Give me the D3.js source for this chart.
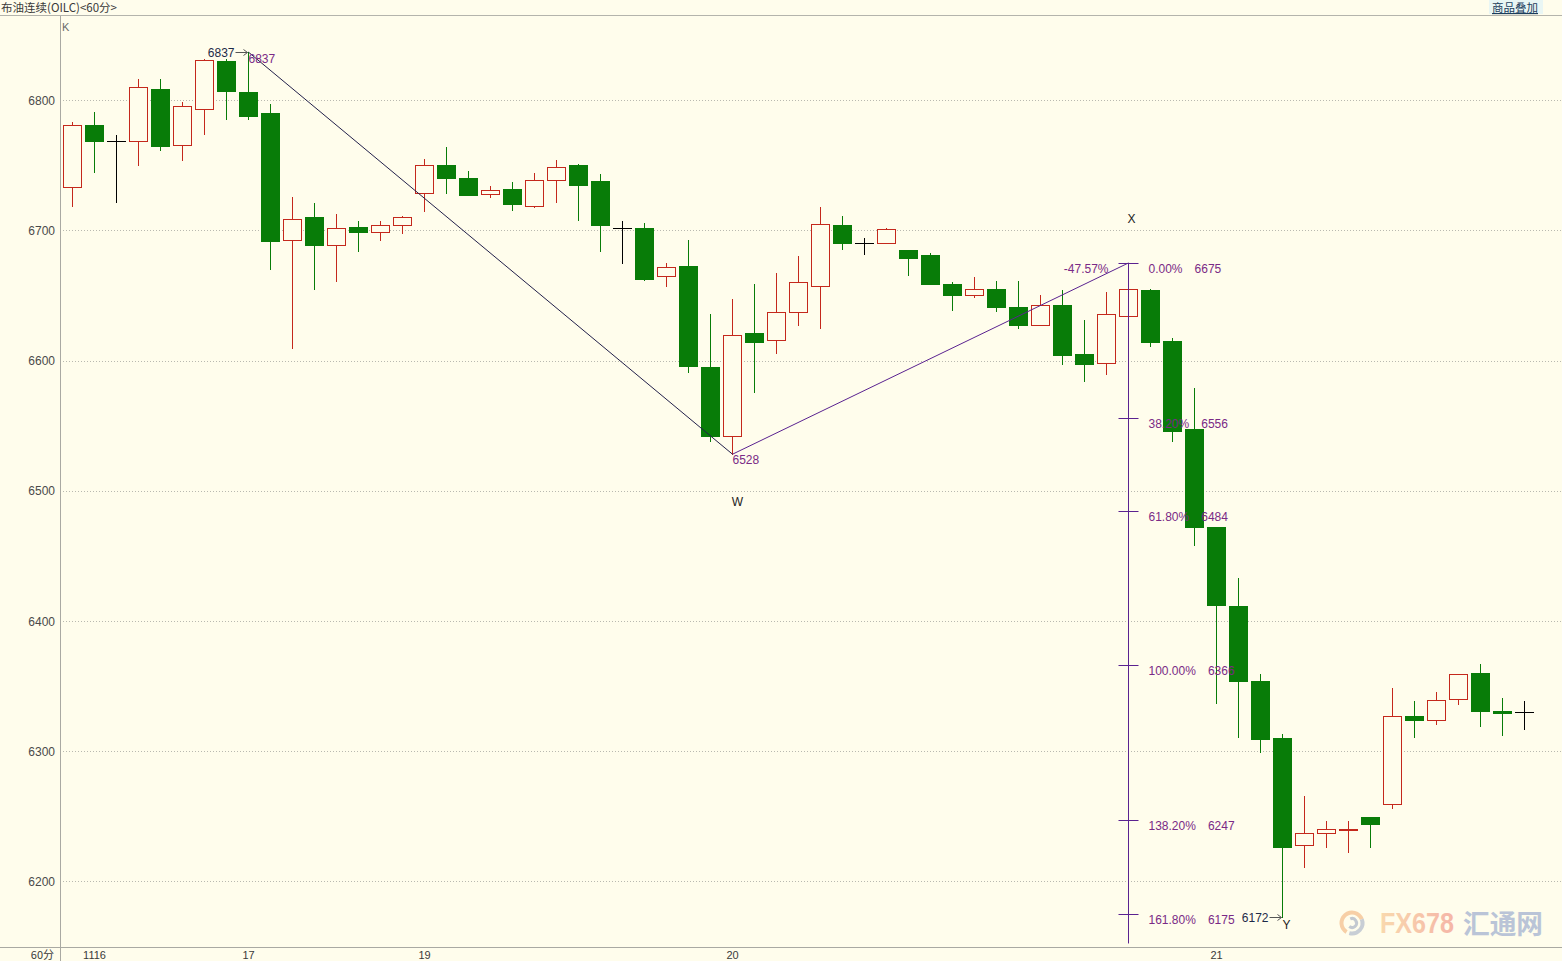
<!DOCTYPE html>
<html>
<head>
<meta charset="utf-8">
<script src="https://cdn.jsdelivr.net/npm/d3@7"></script>
<style>
  html, body { margin: 0; padding: 0; background: #fffdec; }
  svg { display: block; }
</style>
</head>
<body>
<svg id="chart" width="1562" height="961"></svg>
<script>
// 布油连续 (OILC) 60-minute bars
const opens = [
  6733, 6781, 6769, 6769, 6809, 6766, 6793, 6830, 6806, 6790,
  6693, 6710, 6689, 6703, 6699, 6704, 6729, 6750, 6740, 6728,
  6732, 6719, 6739, 6750, 6738, 6702, 6702, 6665, 6673, 6595,
  6542, 6621, 6616, 6637, 6657, 6704, 6690, 6690, 6685, 6681,
  6659, 6650, 6655, 6641, 6627, 6643, 6605, 6598, 6634, 6654,
  6615, 6547, 6472, 6411, 6354, 6310, 6228, 6237, 6239, 6249,
  6259, 6327, 6324, 6340, 6360, 6331, 6330
];
const highs = [
  6783, 6791, 6773, 6816, 6816, 6799, 6832, 6832, 6837, 6797,
  6726, 6721, 6713, 6707, 6707, 6711, 6755, 6764, 6746, 6734,
  6737, 6744, 6754, 6751, 6743, 6707, 6706, 6675, 6693, 6636,
  6647, 6659, 6667, 6680, 6718, 6711, 6694, 6702, 6685, 6683,
  6660, 6664, 6661, 6661, 6650, 6654, 6631, 6653, 6675, 6655,
  6617, 6579, 6472, 6433, 6359, 6313, 6265, 6246, 6246, 6249,
  6348, 6338, 6345, 6359, 6367, 6341, 6338
];
const lows = [
  6719, 6745, 6722, 6750, 6762, 6754, 6774, 6786, 6786, 6670,
  6610, 6655, 6661, 6684, 6693, 6698, 6715, 6729, 6727, 6726,
  6716, 6718, 6722, 6708, 6684, 6675, 6662, 6657, 6591, 6538,
  6528, 6576, 6606, 6627, 6625, 6686, 6682, 6690, 6666, 6659,
  6639, 6649, 6638, 6625, 6627, 6597, 6584, 6590, 6630, 6611,
  6538, 6458, 6337, 6311, 6299, 6172, 6211, 6226, 6222, 6226,
  6256, 6311, 6321, 6336, 6319, 6312, 6317
];
const closes = [
  6781, 6769, 6769, 6810, 6765, 6796, 6831, 6807, 6788, 6692,
  6709, 6689, 6702, 6699, 6704, 6710, 6750, 6740, 6727, 6731,
  6720, 6739, 6749, 6735, 6704, 6702, 6663, 6672, 6596, 6542,
  6620, 6614, 6637, 6660, 6705, 6690, 6690, 6701, 6679, 6659,
  6650, 6655, 6641, 6627, 6643, 6604, 6597, 6636, 6655, 6614,
  6546, 6472, 6412, 6354, 6309, 6226, 6237, 6240, 6240, 6244,
  6327, 6324, 6339, 6359, 6331, 6329, 6330
];

// session labels on the time axis
const dayLabels = ["1116", "17", "19", "20", "21"];
const dayLabelIdx = [1, 8, 16, 30, 52];

// price grid
const priceTicks = [6200, 6300, 6400, 6500, 6600, 6700, 6800];

// W-X-Y swing points
const pivotIdx = [8, 30, 48];
const pivotVal = [6837, 6528, 6675];
const lowIdx = 55;
const lowVal = 6172;
const retraceText = "-47.57%";

// Fibonacci projection from X
const fibPct = ["0.00%", "38.20%", "61.80%", "100.00%", "138.20%", "161.80%"];
const fibVal = [6675, 6556, 6484, 6366, 6247, 6175];
const fibLineEnd = 6152;

const W = 1562, H = 961;
const plotLeft = 60, plotTop = 16, axisY = 947;
const bg = "#fffdec";
const upColor = "#c4281c";
const downColor = "#087c08";
const flatColor = "#000000";
const annColor = "#7a2a86";
const fibColor = "#5a2290";

const svg = d3.select("#chart");
svg.append("rect").attr("width", W).attr("height", H).attr("fill", bg);

const x = d3.scaleLinear().domain([0, opens.length - 1]).range([72.5, 1524.5]);
const y = d3.scaleLinear().domain([6200, 6800]).range([881, 100.3]);
const py = v => Math.round(y(v));

const numFont = "'Liberation Sans', Arial, sans-serif";
const cjkFont = "'Noto Sans CJK SC', 'Noto Sans', sans-serif";

// header strip
svg.append("line").attr("x1", 0).attr("x2", W).attr("y1", 15.5).attr("y2", 15.5)
  .attr("stroke", "#b4b4ac").attr("stroke-width", 1);
svg.append("text").attr("x", 1).attr("y", 12)
  .attr("font-family", cjkFont).attr("font-size", 11.5).attr("fill", "#3a3a3a")
  .text("布油连续(OILC)<60分>");
svg.append("rect").attr("x", 1489).attr("y", 0).attr("width", 54).attr("height", 14).attr("fill", "#e9f6f4");
svg.append("text").attr("x", 1492).attr("y", 12)
  .attr("font-family", cjkFont).attr("font-size", 11.5).attr("fill", "#1b3d5c")
  .attr("text-decoration", "underline")
  .text("商品叠加");

// gridlines
svg.append("g").selectAll("line").data(priceTicks).join("line")
  .attr("x1", plotLeft).attr("x2", W)
  .attr("y1", d => py(d) + 0.5).attr("y2", d => py(d) + 0.5)
  .attr("stroke", "#b9b9b0").attr("stroke-width", 1).attr("stroke-dasharray", "1,2");

// frame
svg.append("line").attr("x1", plotLeft + 0.5).attr("x2", plotLeft + 0.5).attr("y1", plotTop).attr("y2", H)
  .attr("stroke", "#a9a9a2");
svg.append("line").attr("x1", 0).attr("x2", W).attr("y1", axisY + 0.5).attr("y2", axisY + 0.5)
  .attr("stroke", "#a9a9a2");

// price axis labels
const yAxis = d3.axisLeft(y).tickValues(priceTicks).tickSize(0).tickPadding(0).tickFormat(d3.format("d"));
const yg = svg.append("g").attr("transform", `translate(${plotLeft - 5},0.5)`).call(yAxis);
yg.select(".domain").remove();
yg.selectAll("text").attr("font-family", numFont).attr("font-size", 12).attr("fill", "#4a4a4a");

// time axis labels
svg.append("text").attr("x", 54).attr("y", 959)
  .attr("text-anchor", "end").attr("font-family", cjkFont).attr("font-size", 11).attr("fill", "#3a3a3a")
  .text("60分");
svg.append("g").selectAll("text").data(dayLabels).join("text")
  .attr("x", (d, i) => x(dayLabelIdx[i]))
  .attr("y", 959)
  .attr("text-anchor", "middle")
  .attr("font-family", numFont).attr("font-size", 11).attr("fill", "#3a3a3a")
  .text(d => d);

svg.append("text").attr("x", 62).attr("y", 31)
  .attr("font-family", numFont).attr("font-size", 11).attr("fill", "#6a6a6a").text("K");

// watermark
const wm = svg.append("g").attr("opacity", 0.85);
const logo = wm.append("g").attr("transform", "translate(1352,923)");
logo.append("path").attr("d", d3.arc()({innerRadius: 8.5, outerRadius: 12.5, startAngle: -2.6, endAngle: 1.2}))
  .attr("fill", "#f6c89a");
logo.append("path").attr("d", d3.arc()({innerRadius: 8.5, outerRadius: 12.5, startAngle: 1.2, endAngle: 3.4}))
  .attr("fill", "#bfc6d2");
logo.append("path").attr("d", d3.arc()({innerRadius: 3, outerRadius: 6, startAngle: -0.4, endAngle: 3.8}))
  .attr("fill", "#b9c0cc");
const grad = svg.append("defs").append("linearGradient").attr("id", "fxg")
  .attr("x1", "0%").attr("x2", "100%");
grad.append("stop").attr("offset", "0%").attr("stop-color", "#f8d3a3");
grad.append("stop").attr("offset", "100%").attr("stop-color", "#f4aa9c");
wm.append("text").attr("x", 1380).attr("y", 933)
  .attr("font-family", numFont).attr("font-weight", "bold").attr("font-size", 29)
  .attr("textLength", 74).attr("lengthAdjust", "spacingAndGlyphs")
  .attr("fill", "url(#fxg)").text("FX678");
wm.append("text").attr("x", 1463).attr("y", 934)
  .attr("font-family", cjkFont).attr("font-weight", "bold").attr("font-size", 27)
  .attr("textLength", 80).attr("lengthAdjust", "spacingAndGlyphs")
  .attr("fill", "#aebbd4").text("汇通网");

// candles
const bars = d3.range(opens.length).map(i => ({
  i, o: opens[i], h: highs[i], l: lows[i], c: closes[i]
}));
const colorOf = d => d.c > d.o ? upColor : (d.c < d.o ? downColor : flatColor);

const cg = svg.append("g");
cg.selectAll("line.wick").data(bars).join("line")
  .attr("class", "wick")
  .attr("x1", d => x(d.i)).attr("x2", d => x(d.i))
  .attr("y1", d => py(d.h)).attr("y2", d => py(d.l) + 1)
  .attr("stroke", colorOf).attr("stroke-width", 1);

// rising: hollow red body
cg.selectAll("rect.up").data(bars.filter(d => d.c > d.o)).join("rect")
  .attr("class", "up")
  .attr("x", d => x(d.i) - 9).attr("width", 18)
  .attr("y", d => py(d.c) + 0.5)
  .attr("height", d => Math.max(1, py(d.o) - py(d.c)))
  .attr("fill", bg).attr("stroke", upColor).attr("stroke-width", 1);

// falling: solid green body
cg.selectAll("rect.down").data(bars.filter(d => d.c < d.o)).join("rect")
  .attr("class", "down")
  .attr("x", d => x(d.i) - 9.5).attr("width", 19)
  .attr("y", d => py(d.o))
  .attr("height", d => Math.max(2, py(d.c) - py(d.o) + 1))
  .attr("fill", downColor);

// unchanged: black cross
cg.selectAll("line.flat").data(bars.filter(d => d.c === d.o)).join("line")
  .attr("class", "flat")
  .attr("x1", d => x(d.i) - 9.5).attr("x2", d => x(d.i) + 9.5)
  .attr("y1", d => py(d.o) + 0.5).attr("y2", d => py(d.o) + 0.5)
  .attr("stroke", flatColor).attr("stroke-width", 1);

// swing lines W-X
const pts = pivotIdx.map((d, i) => [x(d), y(pivotVal[i])]);
svg.append("line")
  .attr("x1", pts[0][0]).attr("y1", pts[0][1]).attr("x2", pts[1][0]).attr("y2", pts[1][1])
  .attr("stroke", "#22204a").attr("stroke-width", 1);
svg.append("line")
  .attr("x1", pts[1][0]).attr("y1", pts[1][1]).attr("x2", pts[2][0]).attr("y2", pts[2][1])
  .attr("stroke", fibColor).attr("stroke-width", 1);

// Fibonacci ruler
const fx = x(pivotIdx[2]);
svg.append("line").attr("x1", fx).attr("x2", fx)
  .attr("y1", y(pivotVal[2])).attr("y2", y(fibLineEnd))
  .attr("stroke", fibColor).attr("stroke-width", 1);
svg.append("g").selectAll("line").data(fibVal).join("line")
  .attr("x1", fx - 10).attr("x2", fx + 10)
  .attr("y1", d => py(d) + 0.5).attr("y2", d => py(d) + 0.5)
  .attr("stroke", fibColor).attr("stroke-width", 1);
const fibLab = svg.append("g").attr("font-family", numFont).attr("font-size", 12).attr("fill", annColor);
fibVal.forEach((v, i) => {
  const t = fibLab.append("text").attr("x", fx + 20).attr("y", py(v) + 10).text(fibPct[i]);
  const w = t.node().getComputedTextLength();
  fibLab.append("text").attr("x", fx + 20 + w + 12).attr("y", py(v) + 10).text(v);
});
svg.append("text").attr("x", fx - 20).attr("y", y(pivotVal[2]) + 10)
  .attr("text-anchor", "end").attr("font-family", numFont).attr("font-size", 12).attr("fill", annColor)
  .text(retraceText);

// swing point labels
const lab = svg.append("g").attr("font-family", numFont).attr("font-size", 12);
lab.append("text").attr("x", pts[0][0]).attr("y", pts[0][1] + 11).attr("fill", annColor).text(pivotVal[0]);
lab.append("text").attr("x", pts[1][0]).attr("y", pts[1][1] + 10).attr("fill", annColor).text(pivotVal[1]);
lab.append("text").attr("x", pts[1][0] + 5).attr("y", pts[1][1] + 52).attr("text-anchor", "middle").attr("fill", "#222").text("W");
lab.append("text").attr("x", pts[2][0] + 3).attr("y", pts[2][1] - 40).attr("text-anchor", "middle").attr("fill", "#222").text("X");

// extreme price markers with arrows
function arrowLabel(idx, val, color) {
  const ax = x(idx), ay = py(val) + 0.5;
  lab.append("text").attr("x", ax - 14).attr("y", ay + 4).attr("text-anchor", "end")
    .attr("fill", color).text(val);
  lab.append("line").attr("x1", ax - 13).attr("x2", ax - 1).attr("y1", ay).attr("y2", ay)
    .attr("stroke", "#555").attr("stroke-width", 1);
  lab.append("path").attr("d", `M${ax - 1},${ay} l-4,-3 M${ax - 1},${ay} l-4,3`)
    .attr("stroke", "#555").attr("fill", "none");
}
arrowLabel(pivotIdx[0], pivotVal[0], "#1d2a48");
arrowLabel(lowIdx, lowVal, "#1d2a48");
lab.append("text").attr("x", x(lowIdx) + 4).attr("y", py(lowVal) + 12).attr("text-anchor", "middle")
  .attr("fill", "#222").text("Y");
</script>
</body>
</html>
